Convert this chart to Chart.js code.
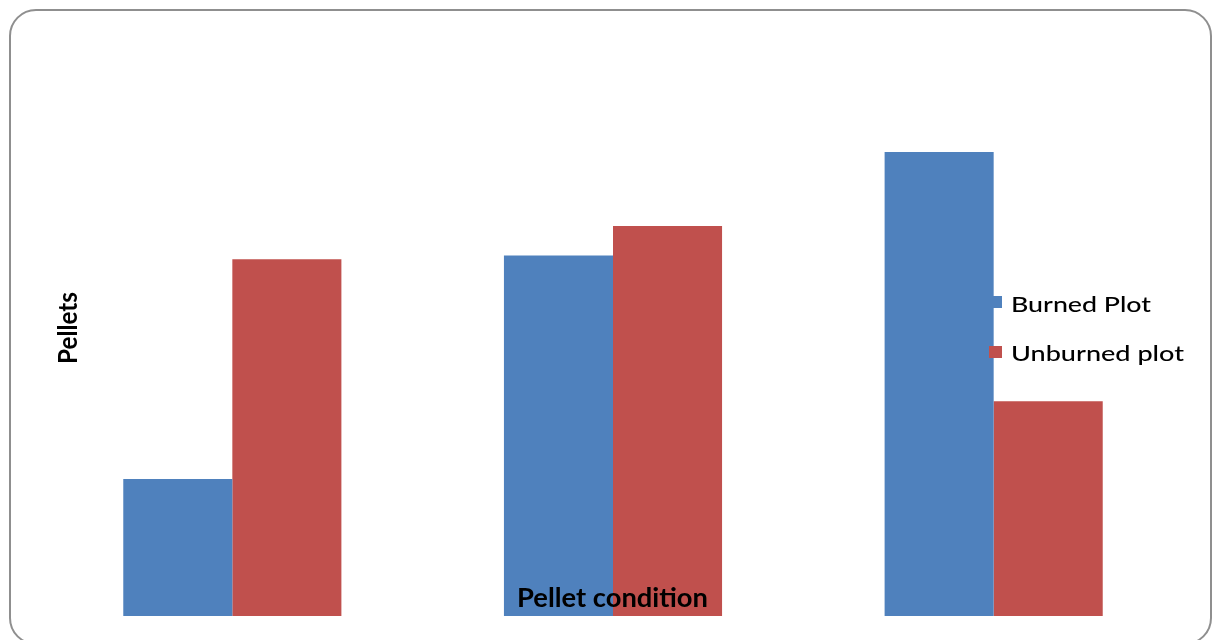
<!DOCTYPE html>
<html>
<head>
<meta charset="utf-8">
<script src="https://cdn.jsdelivr.net/npm/chart.js@4/dist/chart.umd.min.js"></script>
<style>
html,body{margin:0;padding:0;background:#fff;overflow:hidden;width:1213px;height:640px;}
#frame{position:absolute;left:9px;top:9px;width:1203px;height:636px;border:2px solid #8f8f8f;border-radius:27px;box-sizing:border-box;}
#wrap{position:absolute;left:0;top:0;width:1213px;height:640px;}
</style>
</head>
<body>
<div id="frame"></div>
<div id="wrap"><canvas id="c" width="1213" height="640"></canvas></div>
<script>
const categories = ["1", "2", "3"];
const burnedPlot = [3.84, 10.1, 13.0];
const unburnedPlot = [10.0, 10.93, 6.02];
const seriesNames = ["Burned Plot", "Unburned plot"];
const axisTitles = { x: "Pellet condition", y: "Pellets" };
const yMax = 16;

const BLUE = "#4F81BD", RED = "#C0504D";

function drawFitted(ctx, text, x, y, font, targetW) {
  ctx.save();
  ctx.font = font;
  const w = ctx.measureText(text).width;
  ctx.translate(x, y);
  ctx.scale(targetW / w, 1);
  ctx.fillText(text, 0, 0);
  ctx.restore();
}

const overlay = {
  id: "overlay",
  afterDatasetsDraw(chart) {
    const ctx = chart.ctx;
    ctx.save();
    ctx.fillStyle = "#000";
    ctx.textBaseline = "alphabetic";
    ctx.textAlign = "left";
    drawFitted(ctx, axisTitles.x, 517, 607, "bold 26px Lato", 191);
    ctx.save();
    ctx.translate(77, 364);
    ctx.rotate(-Math.PI / 2);
    drawFitted(ctx, axisTitles.y, 0, 0, "bold 26px Lato", 72);
    ctx.restore();
    ctx.fillStyle = BLUE;
    ctx.fillRect(990, 296, 12, 12);
    ctx.fillStyle = RED;
    ctx.fillRect(989, 346, 13, 12);
    ctx.fillStyle = "#000";
    drawFitted(ctx, seriesNames[0], 1011, 312, "500 22px Lato", 140);
    drawFitted(ctx, seriesNames[1], 1011, 361, "500 22px Lato", 173);
    ctx.restore();
  }
};

new Chart(document.getElementById("c"), {
  type: "bar",
  data: {
    labels: categories,
    datasets: [
      { label: seriesNames[0], data: burnedPlot, backgroundColor: BLUE, borderWidth: 0 },
      { label: seriesNames[1], data: unburnedPlot, backgroundColor: RED, borderWidth: 0 }
    ]
  },
  options: {
    responsive: false,
    animation: false,
    devicePixelRatio: 1,
    layout: { padding: { left: 42, right: 29, top: 45, bottom: 24 } },
    datasets: { bar: { categoryPercentage: 0.573, barPercentage: 1.0 } },
    plugins: { legend: { display: false }, tooltip: { enabled: false }, title: { display: false } },
    scales: {
      x: { display: false },
      y: { display: false, min: 0, max: yMax }
    }
  },
  plugins: [overlay]
});
</script>
</body>
</html>
